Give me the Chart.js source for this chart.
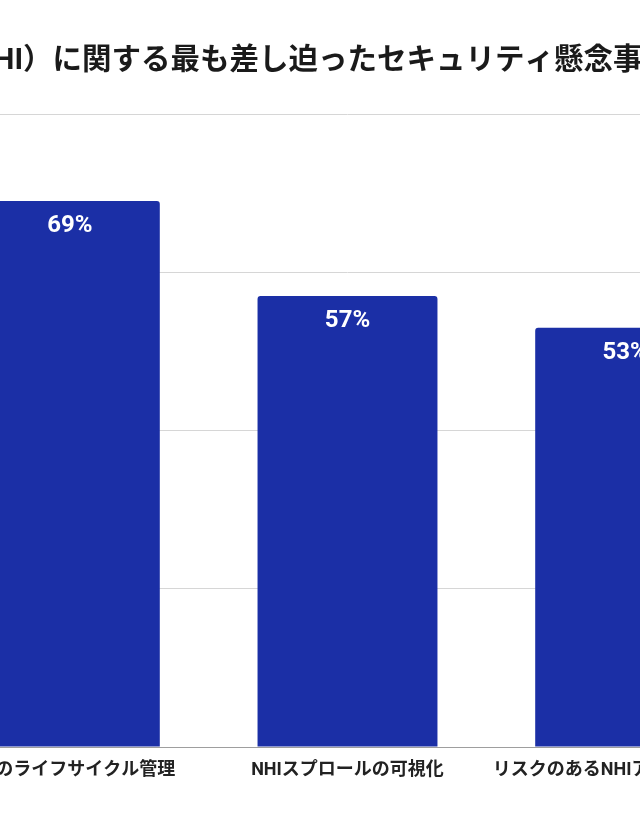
<!DOCTYPE html>
<html>
<head>
<meta charset="utf-8">
<script src="https://cdn.jsdelivr.net/npm/chart.js@4/dist/chart.umd.min.js"></script>
<style>
  html, body { margin: 0; padding: 0; background: #ffffff; }
  #wrap { position: relative; width: 640px; height: 816px; overflow: hidden; background: #ffffff; }
  #c { position: absolute; left: -173px; top: 0; }
</style>
</head>
<body>
<div id="wrap"><canvas id="c" width="937" height="816"></canvas></div>
<script>
const chartTitle = "非人間ID（NHI）に関する最も差し迫ったセキュリティ懸念事項";
const categories = ["NHIのライフサイクル管理", "NHIスプロールの可視化", "リスクのあるNHIアカウント検出"];
const values = [69, 57, 53];
const yTicks = [0, 20, 40, 60, 80];

const FONT = "Roboto, 'Noto Sans CJK JP', sans-serif";
const BAR_COLOR = "#1b2fa6";

const valueLabels = {
  id: 'valueLabels',
  afterDatasetsDraw(chart) {
    const ctx = chart.ctx;
    const meta = chart.getDatasetMeta(0);
    ctx.save();
    ctx.fillStyle = '#ffffff';
    ctx.font = "bold 24px " + FONT;
    ctx.textAlign = 'center';
    ctx.textBaseline = 'middle';
    meta.data.forEach((bar, i) => {
      ctx.fillText(values[i] + '%', bar.x, bar.y + 25);
    });
    ctx.restore();
  }
};

new Chart(document.getElementById('c'), {
  type: 'bar',
  data: {
    labels: categories,
    datasets: [{
      data: values,
      backgroundColor: BAR_COLOR,
      borderRadius: { topLeft: 3, topRight: 3 },
      borderSkipped: 'bottom',
      categoryPercentage: 1,
      barPercentage: 0.648
    }]
  },
  options: {
    responsive: false,
    animation: false,
    devicePixelRatio: 1,
    layout: { padding: { left: 0, right: 0, top: 0, bottom: 29.4 } },
    plugins: {
      legend: { display: false },
      tooltip: { enabled: false },
      title: {
        display: true,
        text: chartTitle,
        align: 'start',
        color: '#1a1a1a',
        font: { family: FONT, size: 29.5, weight: 'bold', lineHeight: 1.2 },
        padding: { top: 44.3, bottom: 34.3 }
      }
    },
    scales: {
      x: {
        grid: { display: false },
        border: { display: true, color: '#9e9e9e', width: 1 },
        ticks: {
          color: '#222222',
          font: { family: FONT, size: 18, weight: 'bold', lineHeight: 1.2 },
          padding: 5,
          maxRotation: 0,
          autoSkip: false
        }
      },
      y: {
        min: 0,
        max: 80,
        afterBuildTicks(axis) { axis.ticks = yTicks.map(v => ({ value: v })); },
        afterFit(axis) { axis.width = 104; },
        grid: { color: '#d6d6d6', lineWidth: 1, drawTicks: false },
        border: { display: false },
        ticks: { display: false }
      }
    }
  },
  plugins: [valueLabels]
});
</script>
</body>
</html>
